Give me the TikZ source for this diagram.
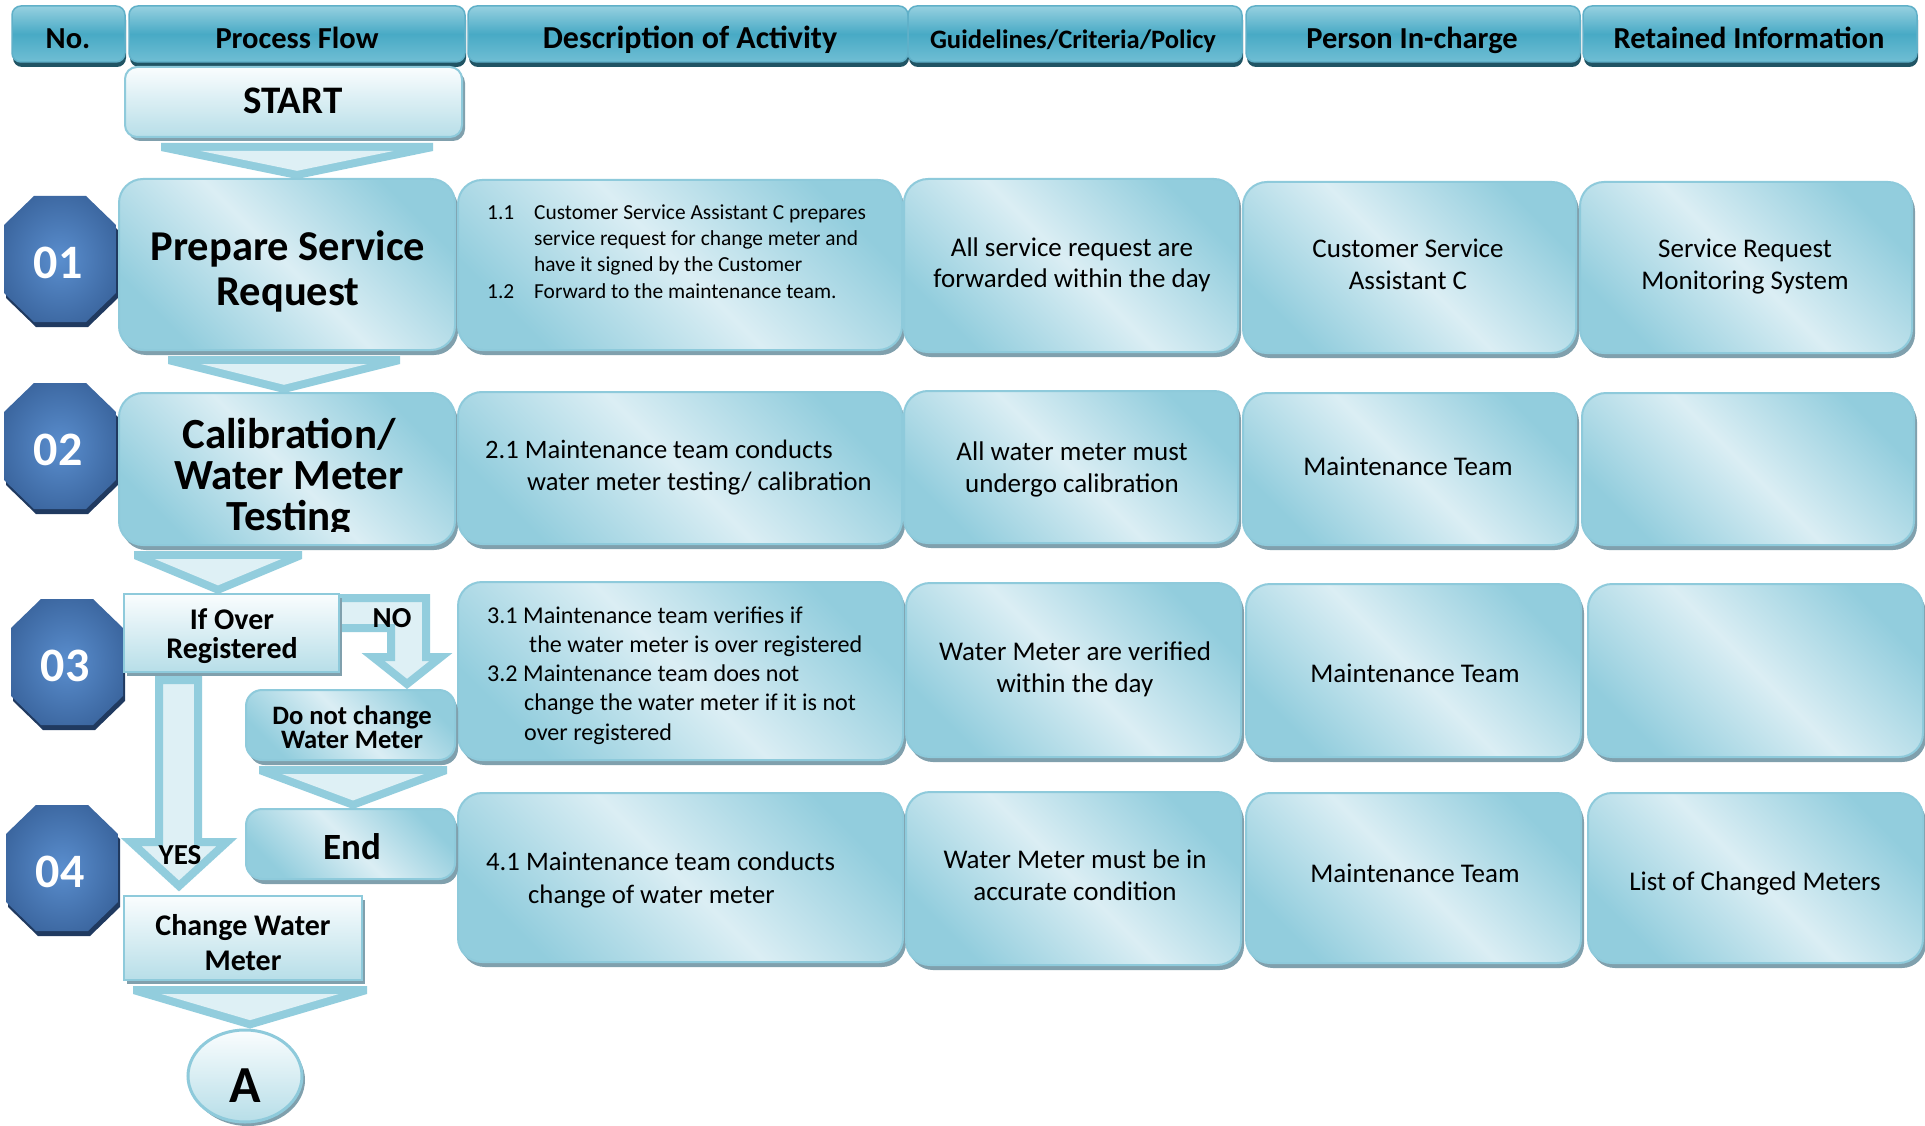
\documentclass[tikz,border=0pt]{standalone}
\usepackage{fontspec}
\setmainfont{Carlito}
\usetikzlibrary{shadows,fit,calc,shapes.geometric}
\pgfdeclarelayer{back}
\pgfsetlayers{back,main}

\definecolor{hdrTop}{RGB}{150,208,224}
\definecolor{hdrMid}{RGB}{72,170,197}
\definecolor{hdrBot}{RGB}{112,190,212}
\definecolor{hdrLine}{RGB}{96,176,200}
\definecolor{hdrShadow}{RGB}{32,84,100}
\definecolor{boxDark}{RGB}{146,205,221}
\definecolor{boxLight}{RGB}{219,238,244}
\definecolor{boxLine}{RGB}{142,202,219}
\definecolor{boxShadow}{RGB}{128,160,173}
\definecolor{paleTop}{RGB}{250,253,254}
\definecolor{paleBot}{RGB}{183,222,232}
\definecolor{octOuter}{RGB}{50,90,145}
\definecolor{octInner}{RGB}{90,142,206}
\definecolor{octShadow}{RGB}{32,58,96}
\definecolor{chevBorder}{RGB}{146,205,221}
\definecolor{chevFill}{RGB}{222,240,245}

\pgfdeclareradialshading{octglow}{\pgfpoint{0bp}{0bp}}{color(0bp)=(octInner); color(36bp)=(octOuter); color(50bp)=(octOuter)}

% centred / left-aligned lines, first baseline is the box baseline
\newcommand\mlc[1]{\vtop{\lineskiplimit=-\maxdimen\halign{\hfil##\hfil\cr#1\crcr}}}
\newcommand\mll[1]{\vtop{\lineskiplimit=-\maxdimen\halign{##\hfil\cr#1\crcr}}}

% table cell box spanning two corners
\newcommand\cellbox[4][]{\node[cbox,#1,fit={#3 #4}] (#2) {};}

% numbered octagon badge
\newcommand\octo[4]{%
  \begin{scope}[shift={(#2,#3)}]
    \fill[octShadow] (-24,-58) -- (28,-58) -- (58,-29) -- (58,39) -- (28,68) -- (-24,68) -- (-54,39) -- (-54,-29) -- cycle;
    \shade[shading=octglow] (-26,-63) -- (26,-63) -- (56,-34) -- (56,34) -- (26,63) -- (-26,63) -- (-56,34) -- (-56,-34) -- cycle;
    \node[numtxt] (#1) at (-2,19) {#4};
  \end{scope}}

% downward chevron from one node to the next: source, target, apex x, half width
\newcommand\flowchev[4]{%
  \path (#1.south); \pgfgetlastxy{\cvx}{\cvsy}%
  \path (#2.north); \pgfgetlastxy{\cvx}{\cvdy}%
  \pgfmathsetmacro\cvTop{\cvsy-6pt}%
  \pgfmathsetmacro\cvBand{\cvsy-14pt}%
  \pgfmathsetmacro\cvH{\cvBand-\cvdy}%
  \pgfmathsetmacro\cvAng{atan(\cvH/#4)}%
  \pgfmathsetmacro\cvD{8/sin(\cvAng)}%
  \pgfmathsetmacro\cvU{8/cos(\cvAng)}%
  \fill[chevBorder] ({#3pt-#4pt},{\cvTop pt}) -- ({#3pt+#4pt},{\cvTop pt}) -- ({#3pt+#4pt},{\cvBand pt})
     -- ({#3pt},{\cvdy}) -- ({#3pt-#4pt},{\cvBand pt}) -- cycle;
  \fill[chevFill] ({#3pt-#4pt+\cvD pt},{\cvBand pt}) -- ({#3pt+#4pt-\cvD pt},{\cvBand pt})
     -- ({#3pt},{\cvdy+\cvU pt}) -- cycle;}

\begin{document}
\begin{tikzpicture}[x=1pt,y=-1pt,
  hdr/.style={draw=hdrLine, line width=1.5pt, rounded corners=9pt,
    top color=hdrTop, bottom color=hdrBot, middle color=hdrMid,
    drop shadow={shadow xshift=1pt, shadow yshift=-5pt, fill=hdrShadow, opacity=1},
    inner sep=0pt, outer sep=0pt},
  hdrtxt/.style={anchor=base, inner sep=0pt, font=\bfseries\fontsize{30.5}{32}\selectfont},
  cbox/.style={draw=boxLine, line width=2pt, rounded corners=24pt,
    top color=boxDark, bottom color=boxDark, middle color=boxLight, shading angle=-45,
    drop shadow={shadow xshift=3pt, shadow yshift=-5pt, fill=boxShadow, opacity=1},
    inner sep=0pt, outer sep=0pt},
  rbox/.style={draw=boxLine, line width=2pt,
    top color=paleTop, bottom color=paleBot,
    drop shadow={shadow xshift=3pt, shadow yshift=-4pt, fill=boxShadow, opacity=1},
    inner sep=0pt, outer sep=0pt},
  numtxt/.style={anchor=base, inner sep=0pt, text=white, font=\bfseries\fontsize{48}{48}\selectfont},
  flowtxt/.style={anchor=base, inner sep=0pt, font=\bfseries},
  celltxt/.style={anchor=base, inner sep=0pt, font=\fontsize{27}{32}\selectfont},
  desctxt/.style={anchor=base west, inner sep=0pt},
  blockarrow/.style={draw=chevBorder, line width=8pt, line join=miter, fill=chevFill}]

\useasboundingbox (0,0) rectangle (1925,1126);

% ---------- column headers ----------
\node[hdr, fit={(12,6) (125,62)}] (hNo) {};
\node[hdr, fit={(129,6) (465,62)}] (hPF) {};
\node[hdr, fit={(468,6) (908,62)}] (hDA) {};
\node[hdr, fit={(908,6) (1242,62)}] (hGC) {};
\node[hdr, fit={(1246,6) (1580,62)}] (hPI) {};
\node[hdr, fit={(1583,6) (1917,62)}] (hRI) {};
\node[hdrtxt] (tNo) at (68,49) {No.};
\node[hdrtxt] (tPF) at (297,49) {Process Flow};
\node[hdrtxt, font=\bfseries\fontsize{32}{32}\selectfont] (tDA) at (690,49) {Description of Activity};
\node[hdrtxt, font=\bfseries\fontsize{26.6}{28}\selectfont] (tGC) at (1073,49) {Guidelines/Criteria/Policy};
\node[hdrtxt] (tPI) at (1412,49) {Person In-charge};
\node[hdrtxt] (tRI) at (1749,49) {Retained Information};

% ---------- start ----------
\node[rbox, rounded corners=12pt, fit={(125,67) (462,137)}] (start) {};
\node[flowtxt, font=\bfseries\fontsize{39}{39}\selectfont] (tStart) at (293,114) {START};

% ---------- step numbers ----------
\octo{n01}{60}{259}{01}
\octo{n02}{60}{446}{02}
\octo{n03}{67}{662}{03}
\octo{n04}{62}{868}{04}

% ---------- row 1 ----------
\cellbox{pf1}{(119,179)}{(455,350)}
\cellbox{da1}{(458,180)}{(902,350)}
\cellbox{gc1}{(904,179)}{(1238,352)}
\cellbox{pi1}{(1243,182)}{(1576,353)}
\cellbox{ri1}{(1580,182)}{(1912,353)}
\node[flowtxt, font=\bfseries\fontsize{42.5}{45}\selectfont] (tpf1) at (288,260) {\mlc{Prepare Service\cr Request}};
\node[desctxt, font=\fontsize{21.4}{26}\selectfont] (tda1) at (487,220)
  {\mll{\makebox[47pt][l]{1.1}Customer Service Assistant C prepares\cr
        \hspace*{47pt}service request for change meter and\cr
        \hspace*{47pt}have it signed by the Customer\cr
        \makebox[47pt][l]{1.2}Forward to the maintenance team.}};
\node[celltxt] (tgc1) at (1072,256) {\mlc{All service request are\cr forwarded within the day}};
\node[celltxt] (tpi1) at (1408,258) {\mlc{Customer Service\cr Assistant C}};
\node[celltxt] (tri1) at (1745,258) {\mlc{Service Request\cr Monitoring System}};

% ---------- row 2 ----------
\cellbox{pf2}{(119,393)}{(455,545)}
\cellbox{da2}{(458,392)}{(902,544)}
\cellbox{gc2}{(904,391)}{(1238,543)}
\cellbox{pi2}{(1243,393)}{(1576,545)}
\cellbox{ri2}{(1582,393)}{(1914,545)}
\begin{scope}
  \clip (100,380) rectangle (470,531);
  \node[flowtxt, font=\bfseries\fontsize{43}{41}\selectfont] (tpf2) at (289,448) {\mlc{Calibration/\cr Water Meter\cr Testing}};
\end{scope}
\node[desctxt, font=\fontsize{26.6}{32}\selectfont] (tda2) at (485,458)
  {\mll{2.1 Maintenance team conducts\cr\hspace*{42pt}water meter testing/ calibration}};
\node[celltxt] (tgc2) at (1072,460) {\mlc{All water meter must\cr undergo calibration}};
\node[celltxt] (tpi2) at (1408,475) {Maintenance Team};

% ---------- row 3 ----------
\cellbox{da3}{(458,582)}{(903,760)}
\cellbox{gc3}{(906,583)}{(1241,757)}
\cellbox{pi3}{(1246,584)}{(1581,757)}
\cellbox{ri3}{(1588,584)}{(1923,757)}
\node[desctxt, font=\fontsize{24.1}{29.3}\selectfont] (tda3) at (487,623)
  {\mll{3.1 Maintenance team verifies if\cr
        \hspace*{42pt}the water meter is over registered\cr
        3.2 Maintenance team does not\cr
        \hspace*{37pt}change the water meter if it is not\cr
        \hspace*{37pt}over registered}};
\node[celltxt] (tgc3) at (1075,660) {\mlc{Water Meter are verified\cr within the day}};
\node[celltxt] (tpi3) at (1415,682) {Maintenance Team};

% ---------- row 4 ----------
\cellbox{da4}{(458,793)}{(903,962)}
\cellbox{gc4}{(906,792)}{(1241,965)}
\cellbox{pi4}{(1246,793)}{(1581,963)}
\cellbox{ri4}{(1588,793)}{(1923,963)}
\node[desctxt, font=\fontsize{26.7}{33}\selectfont] (tda4) at (486,870)
  {\mll{4.1 Maintenance team conducts\cr\hspace*{42pt}change of water meter}};
\node[celltxt] (tgc4) at (1075,868) {\mlc{Water Meter must be in\cr accurate condition}};
\node[celltxt] (tpi4) at (1415,882) {Maintenance Team};
\node[celltxt] (tri4) at (1755,890) {List of Changed Meters};

% ---------- decision branch ----------
\node[rbox, fit={(124,594) (339,672)}] (ifb) {};
\node[flowtxt, font=\bfseries\fontsize{30}{29}\selectfont] (tifb) at (232,629) {\mlc{If Over\cr Registered}};
\node[cbox, rounded corners=16pt, fit={(246,690) (455,760)}] (dnc) {};
\node[flowtxt, font=\bfseries\fontsize{26.6}{24}\selectfont] (tdnc) at (352,724) {\mlc{Do not change\cr Water Meter}};
\node[cbox, rounded corners=16pt, fit={(246,809) (455,879)}] (endb) {};
\node[flowtxt, font=\bfseries\fontsize{37}{37}\selectfont] (tendb) at (352,859) {End};
\node[rbox, fit={(124,896) (362,980)}] (cwm) {};
\node[flowtxt, font=\bfseries\fontsize{30}{35}\selectfont] (tcwm) at (243,935) {\mlc{Change Water\cr Meter}};
\node[ellipse, draw=boxLine, line width=3pt, top color=paleTop, bottom color=paleBot,
      drop shadow={shadow xshift=3pt, shadow yshift=-4pt, fill=boxShadow, opacity=1},
      minimum width=114pt, minimum height=92pt, inner sep=0pt] (conA) at (245,1076) {};
\node[flowtxt, font=\bfseries\fontsize{52}{52}\selectfont] (tconA) at (245,1102) {A};
\node[flowtxt, font=\bfseries\fontsize{29}{29}\selectfont] (tno) at (392,627) {NO};

% ---------- connectors (behind the boxes) ----------
\begin{pgfonlayer}{back}
  \fill[white] (0,0) rectangle (1925,1126);
  \flowchev{start}{pf1}{297}{136}
  \flowchev{pf1}{pf2}{284}{116}
  \flowchev{pf2}{ifb}{218}{84}
  \flowchev{dnc}{endb}{353}{94}
  \flowchev{cwm}{conA}{250}{117}
  % YES branch
  \path[blockarrow] ($(159,0 |- ifb.south)+(0,8)$) -- ($(198,0 |- ifb.south)+(0,8)$)
     -- ($(198,0 |- cwm.north)+(0,-54)$) -- ($(227,0 |- cwm.north)+(0,-54)$)
     -- ($(179,0 |- cwm.north)+(0,-10)$) -- ($(131,0 |- cwm.north)+(0,-54)$)
     -- ($(159,0 |- cwm.north)+(0,-54)$) -- cycle;
  % NO branch
  \path[blockarrow] ($(ifb.north east)+(-6,4)$) -- ($(426,0 |- ifb.north)+(0,4)$)
     -- ($(426,0 |- dnc.north)+(0,-33)$) -- ($(441,0 |- dnc.north)+(0,-33)$)
     -- ($(407,0 |- dnc.north)+(0,-6)$) -- ($(373,0 |- dnc.north)+(0,-33)$)
     -- ($(391,0 |- dnc.north)+(0,-33)$) -- ($(391,0 |- ifb.north)+(0,34)$)
     -- ($(ifb.north east)+(-6,34)$) -- cycle;
\end{pgfonlayer}
\node[flowtxt, font=\bfseries\fontsize{29}{29}\selectfont] (tyes) at (180,864) {YES};

\end{tikzpicture}
\end{document}
